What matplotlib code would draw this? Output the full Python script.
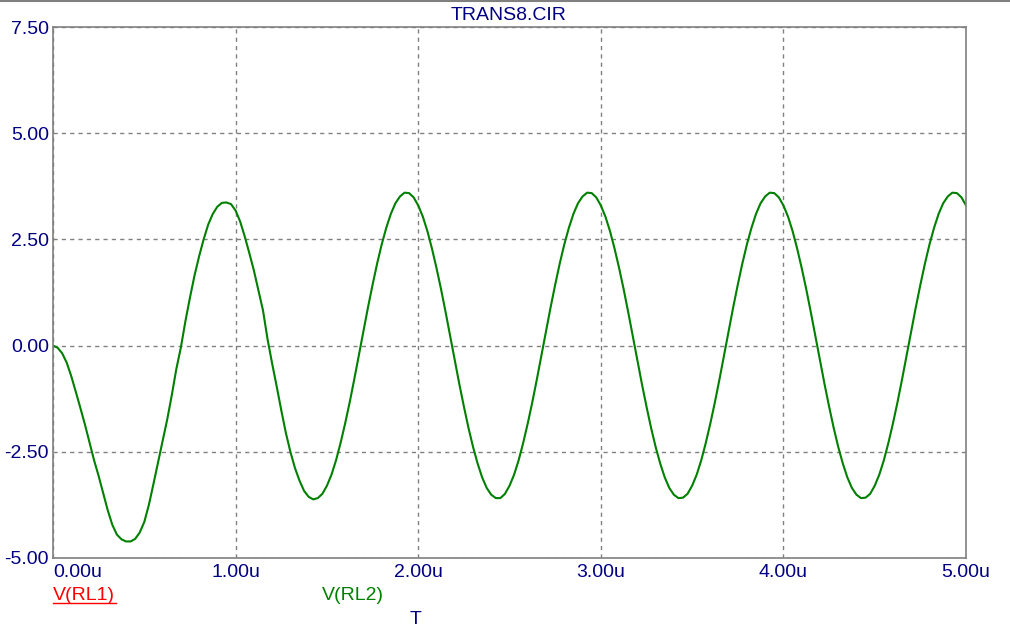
import numpy as np
import matplotlib
matplotlib.use("Agg")
import matplotlib.pyplot as plt
from matplotlib.lines import Line2D

# ---- data (time in microseconds, volts) ------------------------------------
T_STEP_US = 0.025
v_rl2 = [
    # 0.000 .. 0.975  (start-up transient)
    0.00, -0.05, -0.18, -0.40, -0.72, -1.09, -1.47, -1.86, -2.28, -2.70,
    -3.07, -3.48, -3.88, -4.22, -4.45, -4.56, -4.61, -4.61, -4.55, -4.40,
    -4.15, -3.75, -3.26, -2.75, -2.25, -1.75, -1.18, -0.56, -0.05, 0.57,
    1.13, 1.65, 2.10, 2.50, 2.85, 3.10, 3.27, 3.36, 3.37, 3.33,
    # 1.000 .. 1.975
    3.18, 2.92, 2.57, 2.18, 1.77, 1.30, 0.83, 0.15, -0.42, -0.96,
    -1.52, -2.05, -2.50, -2.88, -3.18, -3.42, -3.56, -3.62, -3.59, -3.49,
    -3.30, -3.04, -2.70, -2.29, -1.83, -1.33, -0.79, -0.23, 0.34, 0.90,
    1.43, 1.93, 2.38, 2.77, 3.10, 3.35, 3.51, 3.60, 3.59, 3.49,
    # 2.000 .. 2.975
    3.30, 3.04, 2.70, 2.29, 1.83, 1.33, 0.79, 0.23, -0.34, -0.90,
    -1.43, -1.93, -2.38, -2.77, -3.10, -3.35, -3.51, -3.59, -3.59, -3.49,
    -3.30, -3.04, -2.70, -2.29, -1.83, -1.33, -0.79, -0.23, 0.34, 0.90,
    1.43, 1.93, 2.38, 2.77, 3.10, 3.35, 3.51, 3.60, 3.59, 3.49,
    # 3.000 .. 3.975
    3.30, 3.04, 2.70, 2.29, 1.83, 1.33, 0.79, 0.23, -0.34, -0.90,
    -1.43, -1.93, -2.38, -2.77, -3.10, -3.35, -3.51, -3.59, -3.58, -3.49,
    -3.30, -3.04, -2.70, -2.29, -1.83, -1.33, -0.79, -0.23, 0.34, 0.90,
    1.43, 1.93, 2.38, 2.77, 3.10, 3.35, 3.51, 3.60, 3.59, 3.49,
    # 4.000 .. 5.000
    3.30, 3.04, 2.70, 2.29, 1.83, 1.33, 0.79, 0.23, -0.34, -0.90,
    -1.43, -1.93, -2.38, -2.77, -3.10, -3.35, -3.51, -3.59, -3.58, -3.49,
    -3.30, -3.04, -2.70, -2.29, -1.83, -1.33, -0.79, -0.23, 0.34, 0.90,
    1.43, 1.93, 2.38, 2.77, 3.10, 3.35, 3.51, 3.60, 3.59, 3.49,
    3.30,
]
t_us = np.arange(len(v_rl2)) * T_STEP_US

x_ticks = [0, 1, 2, 3, 4, 5]
x_labels = ["0.00u", "1.00u", "2.00u", "3.00u", "4.00u", "5.00u"]
y_ticks = [-5.0, -2.5, 0.0, 2.5, 5.0, 7.5]
y_labels = ["-5.00", "-2.50", "0.00", "2.50", "5.00", "7.50"]

NAVY, GREEN, RED, GRAY = "#000080", "#008000", "#FF0000", "#808080"
plt.rcParams["font.family"] = ["Liberation Sans", "DejaVu Sans"]

W, H = 1010, 628
fig = plt.figure(figsize=(W / 100, H / 100), dpi=100)
ax = fig.add_axes([53 / W, 1 - 558 / H, (966 - 53) / W, (558 - 27) / H])

ax.plot(t_us, v_rl2, color=GREEN, lw=1.5, solid_joinstyle="round")
ax.set_xlim(0, 5)
ax.set_ylim(-5, 7.5)

ax.set_xticks(x_ticks)
ax.set_xticklabels(x_labels)
ax.set_yticks(y_ticks)
ax.set_yticklabels(y_labels)
ax.tick_params(length=0, labelsize=14, labelcolor=NAVY)
ax.tick_params(axis="x", pad=4)
ax.tick_params(axis="y", pad=3)
ax.get_xticklabels()[0].set_ha("left")

ax.grid(True, color=GRAY, ls=(0, (3, 3)), lw=1)
for s in ax.spines.values():
    s.set_color(GRAY)
    s.set_linewidth(1.2)

# title and trace labels
fig.text(509 / W, 1 - 15 / H, "TRANS8.CIR", color=NAVY, fontsize=14,
         ha="center", va="center")
fig.text(53 / W, 1 - 595 / H, "V(RL1)", color=RED, fontsize=14,
         ha="left", va="center")
fig.add_artist(Line2D([53 / W, 116 / W], [1 - 603 / H, 1 - 603 / H],
                      color=RED, lw=1))
fig.text(322 / W, 1 - 595 / H, "V(RL2)", color=GREEN, fontsize=14,
         ha="left", va="center")
fig.text(416 / W, 1 - 619 / H, "T", color=NAVY, fontsize=14,
         ha="center", va="center")
# top window border
fig.add_artist(Line2D([0, 1], [1 - 0.5 / H, 1 - 0.5 / H], color=GRAY, lw=1.5))

fig.savefig("out.png", dpi=100)
